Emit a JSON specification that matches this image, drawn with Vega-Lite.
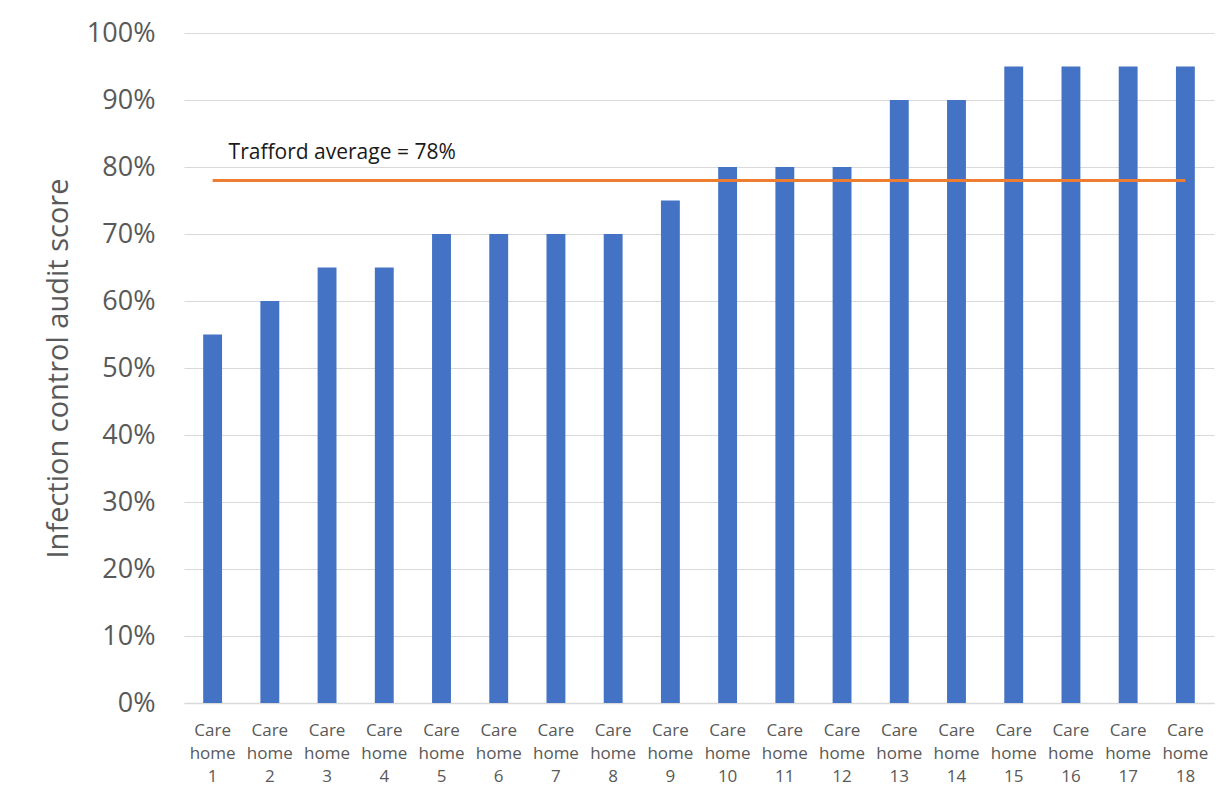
{
  "$schema": "https://vega.github.io/schema/vega-lite/v6.json",
  "width": 1030,
  "height": 670,
  "autosize": {"type": "none"},
  "padding": {"left": 184, "top": 33, "right": 12, "bottom": 93},
  "background": "white",
  "config": {
    "font": "Open Sans",
    "view": {"stroke": null},
    "axis": {"labelFont": "Open Sans", "titleFont": "Open Sans"}
  },
  "datasets": {
    "scores": [
      {"home": "Care home 1", "score": 0.55},
      {"home": "Care home 2", "score": 0.60},
      {"home": "Care home 3", "score": 0.65},
      {"home": "Care home 4", "score": 0.65},
      {"home": "Care home 5", "score": 0.70},
      {"home": "Care home 6", "score": 0.70},
      {"home": "Care home 7", "score": 0.70},
      {"home": "Care home 8", "score": 0.70},
      {"home": "Care home 9", "score": 0.75},
      {"home": "Care home 10", "score": 0.80},
      {"home": "Care home 11", "score": 0.80},
      {"home": "Care home 12", "score": 0.80},
      {"home": "Care home 13", "score": 0.90},
      {"home": "Care home 14", "score": 0.90},
      {"home": "Care home 15", "score": 0.95},
      {"home": "Care home 16", "score": 0.95},
      {"home": "Care home 17", "score": 0.95},
      {"home": "Care home 18", "score": 0.95}
    ],
    "avg": [
      {"home": "Care home 1", "score": 0.78, "label": "Trafford average = 78%"},
      {"home": "Care home 18", "score": 0.78, "label": ""}
    ]
  },
  "layer": [
    {
      "data": {"name": "scores"},
      "mark": {"type": "bar", "color": "#4472C4"},
      "encoding": {
        "x": {
          "field": "home", "type": "nominal", "sort": null,
          "scale": {"paddingInner": 0.67, "paddingOuter": 0.335},
          "axis": {
            "title": null, "labelAngle": 0, "ticks": false,
            "domainColor": "#d9d9d9", "domainWidth": 1.5,
            "labelExpr": "split(datum.label, ' ')",
            "labelFontSize": 17, "labelColor": "#595959",
            "labelLineHeight": 23, "labelPadding": 19, "labelBaseline": "top"
          }
        },
        "y": {
          "field": "score", "type": "quantitative",
          "scale": {"domain": [0, 1]},
          "axis": {
            "title": "Infection control audit score",
            "titleFontSize": 29, "titleFontWeight": "normal", "titleColor": "#595959",
            "titlePadding": 13,
            "values": [0, 0.1, 0.2, 0.3, 0.4, 0.5, 0.6, 0.7, 0.8, 0.9, 1],
            "format": ".0%", "labelFontSize": 27, "labelColor": "#595959",
            "labelPadding": 29, "ticks": false, "domain": false,
            "gridColor": "#d9d9d9", "gridWidth": 1
          }
        }
      }
    },
    {
      "data": {"name": "avg"},
      "mark": {"type": "line", "color": "#ED7D31", "strokeWidth": 3},
      "encoding": {
        "x": {"field": "home", "type": "nominal", "sort": null},
        "y": {"field": "score", "type": "quantitative"}
      }
    },
    {
      "data": {"name": "avg"},
      "mark": {"type": "text", "align": "left", "baseline": "middle", "dx": 16, "dy": -27, "fontSize": 21, "color": "#1a1a1a"},
      "encoding": {
        "x": {"field": "home", "type": "nominal", "sort": null},
        "y": {"field": "score", "type": "quantitative"},
        "text": {"field": "label"}
      }
    }
  ]
}
